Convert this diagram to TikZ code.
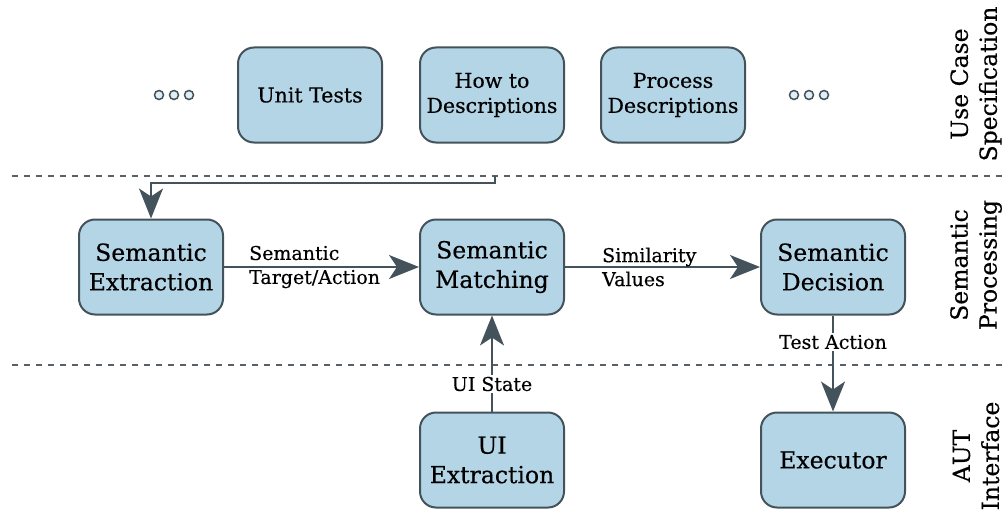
\documentclass[tikz,border=0pt]{standalone}
\usepackage{fontspec}
\setmainfont[FakeBold=0.4]{DejaVu Serif}
\usetikzlibrary{arrows.meta}
\definecolor{boxfill}{HTML}{B3D5E6}
\definecolor{boxdraw}{HTML}{44535B}
\definecolor{dashc}{HTML}{5A6166}
\begin{document}
\begin{tikzpicture}[x=1pt,y=-1pt,
  box/.style={draw=boxdraw, fill=boxfill, line width=2pt, rounded corners=16pt,
    minimum width=144pt, minimum height=95pt, align=center, inner sep=0pt},
  bigtxt/.style={font=\fontsize{23.5}{29.5}\selectfont},
  smalltxt/.style={font=\fontsize{20.5}{25}\selectfont},
  elabel/.style={font=\fontsize{19}{24}\selectfont, align=left, inner sep=0pt},
  vlabel/.style={font=\fontsize{19}{24}\selectfont, fill=white, inner sep=2pt},
  sidelabel/.style={font=\fontsize{23.5}{29}\selectfont, align=center, rotate=90},
  arr/.style={line width=2pt, draw=boxdraw, -{Stealth[length=30pt,width=24pt,inset=8pt]}},
  sep/.style={draw=dashc, line width=1.5pt, dash pattern=on 6pt off 6pt},
  dot/.style={circle, draw=boxdraw, fill=boxfill!40, line width=1.5pt, minimum size=9pt, inner sep=0pt}
]
\useasboundingbox (0,0) rectangle (1008,511);

% separators
\coordinate (l1a) at (12,176); \coordinate (l1b) at (1008,176);
\coordinate (l2a) at (12,365); \coordinate (l2b) at (1008,365);
\draw[sep] (l1a) -- (l1b);
\draw[sep] (l2a) -- (l2b);

% top row
\node[dot] (d1) at (159,95) {};
\node[dot] (d2) at (174,95) {};
\node[dot] (d3) at (189,95) {};
\node[box, smalltxt] (ut) at (310,95) {Unit Tests};
\node[box, smalltxt] (ht) at (492,95) {How to\\Descriptions};
\node[box, smalltxt] (pd) at (673,95) {Process\\Descriptions};
\node[dot] (d4) at (794,95) {};
\node[dot] (d5) at (809,95) {};
\node[dot] (d6) at (824,95) {};

% middle row
\node[box, bigtxt] (se) at (151,267) {Semantic\\Extraction};
\node[box, bigtxt] (sm) at (492,267) {Semantic\\Matching};
\node[box, bigtxt] (sd) at (833,267) {Semantic\\Decision};

% bottom row
\node[box, bigtxt] (ui) at (492,460) {UI\\Extraction};
\node[box, bigtxt] (ex) at (833,460) {Executor};

% connectors
\coordinate (s0) at (495,176);
\coordinate (s1) at (495,183);
\draw[arr] (s0) -- (s1) -| (se.north);
\draw[arr] (se.east) -- (sm.west);
\draw[arr] (sm.east) -- (sd.west);
\draw[arr] (ui.north) -- (sm.south);
\draw[arr] (sd.south) -- (ex.north);

% edge labels
\node[elabel, anchor=west] (lst) at (249,267) {Semantic\\Target/Action};
\node[elabel, anchor=west] (lsv) at (602,267) {Similarity\\Values};
\node[vlabel] (lta) at (833,342) {Test Action};
\node[vlabel] (lus) at (492,384) {UI State};

% side labels
\node[sidelabel] (s1l) at (976,84) {Use Case\\Specification};
\node[sidelabel] (s2l) at (976,265) {Semantic\\Processing};
\node[sidelabel] (s3l) at (976,456) {AUT\\Interface};
\end{tikzpicture}
\end{document}
